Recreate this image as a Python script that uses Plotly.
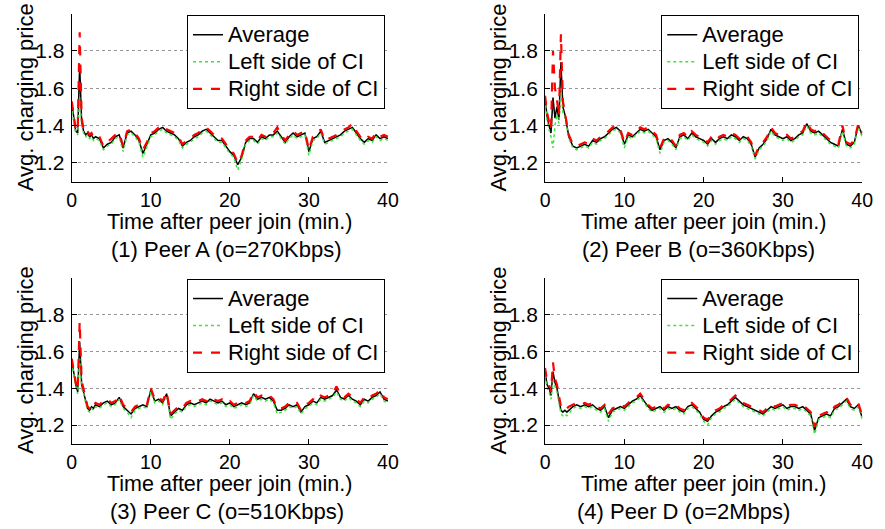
import plotly.graph_objects as go

# ---------------- data ----------------
time_min = [0, 0.25, 0.5, 0.75, 1, 1.25, 1.5, 1.75, 2, 2.25, 2.5, 2.75, 3,
            3.5, 4, 4.5, 5, 5.5, 6, 6.5, 7, 7.5, 8, 8.5, 9, 9.5, 10, 10.5, 11, 11.5, 12,
            12.5, 13, 13.5, 14, 14.5, 15, 15.5, 16, 16.5, 17, 17.5, 18, 18.5, 19, 19.5, 20,
            20.5, 21, 21.5, 22, 22.5, 23, 23.5, 24, 24.5, 25, 25.5, 26, 26.5, 27, 27.5, 28,
            28.5, 29, 29.5, 30, 30.5, 31, 31.5, 32, 32.5, 33, 33.5, 34, 34.5, 35, 35.5, 36,
            36.5, 37, 37.5, 38, 38.5, 39, 39.5, 40]

avg_a = [1.52, 1.43, 1.37, 1.36, 1.72, 1.42, 1.37, 1.35, 1.36, 1.34, 1.35, 1.33, 1.34,
         1.33, 1.28, 1.30, 1.31, 1.34, 1.35, 1.28, 1.36, 1.37, 1.35, 1.32, 1.25, 1.30, 1.35, 1.36, 1.38,
         1.39, 1.37, 1.36, 1.35, 1.33, 1.29, 1.31, 1.32, 1.34, 1.35, 1.37, 1.38, 1.36, 1.34, 1.32, 1.32,
         1.29, 1.26, 1.24, 1.19, 1.23, 1.31, 1.33, 1.33, 1.31, 1.34, 1.33, 1.35, 1.35, 1.37, 1.34, 1.31,
         1.34, 1.36, 1.34, 1.35, 1.36, 1.26, 1.33, 1.34, 1.37, 1.31, 1.32, 1.33, 1.34, 1.35, 1.37, 1.38,
         1.39, 1.36, 1.33, 1.31, 1.33, 1.32, 1.35, 1.33, 1.34, 1.33]
lo_a = [1.51, 1.41, 1.36, 1.35, 1.55, 1.40, 1.36, 1.34, 1.35, 1.33, 1.34, 1.32, 1.33,
        1.32, 1.27, 1.29, 1.30, 1.33, 1.34, 1.26, 1.35, 1.36, 1.34, 1.31, 1.23, 1.29, 1.34, 1.35, 1.37,
        1.38, 1.36, 1.35, 1.34, 1.32, 1.28, 1.30, 1.31, 1.33, 1.34, 1.36, 1.37, 1.35, 1.33, 1.31, 1.31,
        1.28, 1.25, 1.23, 1.16, 1.22, 1.30, 1.32, 1.32, 1.30, 1.33, 1.32, 1.34, 1.34, 1.36, 1.33, 1.30,
        1.33, 1.35, 1.33, 1.34, 1.35, 1.24, 1.32, 1.33, 1.36, 1.30, 1.31, 1.32, 1.33, 1.34, 1.36, 1.37,
        1.38, 1.35, 1.32, 1.30, 1.32, 1.31, 1.34, 1.32, 1.33, 1.32]
hi_a = [1.53, 1.45, 1.38, 1.37, 1.90, 1.44, 1.38, 1.36, 1.37, 1.35, 1.36, 1.34, 1.35,
        1.34, 1.29, 1.31, 1.33, 1.35, 1.36, 1.29, 1.37, 1.38, 1.36, 1.33, 1.27, 1.31, 1.36, 1.37, 1.39,
        1.40, 1.38, 1.37, 1.36, 1.34, 1.30, 1.32, 1.33, 1.35, 1.36, 1.38, 1.39, 1.37, 1.35, 1.33, 1.33,
        1.30, 1.27, 1.25, 1.20, 1.24, 1.32, 1.34, 1.34, 1.32, 1.35, 1.34, 1.36, 1.36, 1.39, 1.35, 1.32,
        1.35, 1.37, 1.35, 1.36, 1.37, 1.27, 1.34, 1.35, 1.38, 1.32, 1.33, 1.34, 1.35, 1.36, 1.38, 1.39,
        1.41, 1.37, 1.34, 1.32, 1.34, 1.33, 1.36, 1.34, 1.35, 1.34]

avg_b = [1.55, 1.45, 1.40, 1.36, 1.55, 1.44, 1.50, 1.43, 1.74, 1.50, 1.46, 1.40, 1.34,
         1.29, 1.28, 1.29, 1.30, 1.29, 1.32, 1.31, 1.33, 1.34, 1.36, 1.38, 1.39, 1.37, 1.30, 1.35, 1.34,
         1.36, 1.38, 1.37, 1.38, 1.36, 1.34, 1.27, 1.32, 1.33, 1.31, 1.28, 1.34, 1.35, 1.33, 1.36, 1.34,
         1.33, 1.32, 1.30, 1.33, 1.31, 1.33, 1.34, 1.33, 1.35, 1.34, 1.32, 1.34, 1.33, 1.30, 1.23, 1.28,
         1.30, 1.33, 1.38, 1.35, 1.34, 1.33, 1.34, 1.32, 1.33, 1.35, 1.36, 1.41, 1.37, 1.36, 1.37, 1.35,
         1.33, 1.31, 1.30, 1.29, 1.38, 1.30, 1.29, 1.31, 1.40, 1.35]
lo_b = [1.54, 1.43, 1.38, 1.34, 1.28, 1.40, 1.46, 1.41, 1.60, 1.47, 1.45, 1.39, 1.33,
        1.28, 1.27, 1.28, 1.29, 1.28, 1.31, 1.30, 1.32, 1.33, 1.35, 1.37, 1.38, 1.36, 1.28, 1.34, 1.33,
        1.35, 1.37, 1.36, 1.37, 1.35, 1.33, 1.25, 1.31, 1.32, 1.30, 1.27, 1.33, 1.34, 1.32, 1.35, 1.33,
        1.32, 1.31, 1.29, 1.32, 1.30, 1.32, 1.33, 1.32, 1.34, 1.33, 1.31, 1.33, 1.32, 1.29, 1.22, 1.27,
        1.29, 1.32, 1.37, 1.34, 1.33, 1.32, 1.33, 1.31, 1.32, 1.34, 1.35, 1.40, 1.36, 1.35, 1.36, 1.34,
        1.32, 1.30, 1.29, 1.28, 1.37, 1.29, 1.28, 1.30, 1.39, 1.34]
hi_b = [1.56, 1.47, 1.42, 1.38, 1.80, 1.60, 1.54, 1.45, 1.89, 1.53, 1.47, 1.41, 1.35,
        1.30, 1.29, 1.30, 1.31, 1.30, 1.33, 1.32, 1.34, 1.35, 1.37, 1.39, 1.40, 1.38, 1.31, 1.36, 1.35,
        1.37, 1.39, 1.38, 1.39, 1.37, 1.35, 1.28, 1.33, 1.34, 1.32, 1.29, 1.35, 1.36, 1.34, 1.37, 1.35,
        1.34, 1.33, 1.31, 1.34, 1.32, 1.34, 1.35, 1.34, 1.36, 1.35, 1.33, 1.35, 1.34, 1.31, 1.24, 1.29,
        1.31, 1.34, 1.39, 1.36, 1.35, 1.34, 1.35, 1.33, 1.34, 1.36, 1.37, 1.42, 1.38, 1.37, 1.38, 1.36,
        1.34, 1.32, 1.31, 1.30, 1.40, 1.31, 1.30, 1.32, 1.41, 1.36]

avg_c = [1.55, 1.47, 1.42, 1.38, 1.65, 1.42, 1.38, 1.33, 1.29, 1.28, 1.30, 1.29, 1.31,
         1.30, 1.32, 1.33, 1.31, 1.32, 1.35, 1.30, 1.28, 1.26, 1.29, 1.30, 1.31, 1.30, 1.39, 1.33, 1.34,
         1.32, 1.37, 1.25, 1.27, 1.29, 1.28, 1.31, 1.32, 1.31, 1.32, 1.33, 1.32, 1.34, 1.33, 1.32, 1.33,
         1.31, 1.32, 1.30, 1.31, 1.32, 1.31, 1.32, 1.37, 1.34, 1.35, 1.34, 1.35, 1.33, 1.28, 1.28, 1.29,
         1.31, 1.30, 1.31, 1.27, 1.30, 1.31, 1.33, 1.32, 1.35, 1.34, 1.35, 1.36, 1.39, 1.35, 1.34, 1.36,
         1.34, 1.33, 1.31, 1.34, 1.33, 1.35, 1.36, 1.38, 1.34, 1.33]
lo_c = [1.54, 1.46, 1.41, 1.37, 1.56, 1.40, 1.37, 1.32, 1.28, 1.27, 1.29, 1.28, 1.30,
        1.29, 1.31, 1.32, 1.30, 1.31, 1.34, 1.29, 1.27, 1.24, 1.28, 1.29, 1.30, 1.29, 1.38, 1.32, 1.33,
        1.31, 1.36, 1.23, 1.26, 1.28, 1.27, 1.30, 1.31, 1.30, 1.31, 1.32, 1.31, 1.33, 1.32, 1.31, 1.32,
        1.30, 1.31, 1.29, 1.30, 1.31, 1.30, 1.31, 1.36, 1.33, 1.34, 1.33, 1.34, 1.32, 1.26, 1.27, 1.28,
        1.30, 1.29, 1.30, 1.26, 1.29, 1.30, 1.32, 1.31, 1.34, 1.33, 1.34, 1.35, 1.38, 1.34, 1.33, 1.35,
        1.33, 1.32, 1.30, 1.33, 1.32, 1.34, 1.35, 1.37, 1.33, 1.32]
hi_c = [1.56, 1.48, 1.43, 1.39, 1.76, 1.44, 1.39, 1.34, 1.30, 1.29, 1.31, 1.30, 1.32,
        1.31, 1.33, 1.34, 1.32, 1.33, 1.36, 1.31, 1.29, 1.27, 1.30, 1.31, 1.32, 1.31, 1.40, 1.34, 1.35,
        1.33, 1.38, 1.26, 1.28, 1.30, 1.29, 1.32, 1.33, 1.32, 1.33, 1.34, 1.33, 1.35, 1.34, 1.33, 1.34,
        1.32, 1.33, 1.31, 1.32, 1.33, 1.32, 1.33, 1.38, 1.35, 1.36, 1.35, 1.36, 1.34, 1.29, 1.29, 1.30,
        1.32, 1.31, 1.32, 1.28, 1.31, 1.32, 1.34, 1.33, 1.36, 1.35, 1.36, 1.37, 1.41, 1.36, 1.35, 1.37,
        1.35, 1.34, 1.32, 1.35, 1.34, 1.36, 1.37, 1.39, 1.35, 1.34]

avg_d = [1.49, 1.42, 1.40, 1.36, 1.49, 1.43, 1.40, 1.34, 1.28, 1.27, 1.28, 1.27, 1.28,
         1.30, 1.31, 1.30, 1.31, 1.30, 1.31, 1.29, 1.28, 1.30, 1.24, 1.28, 1.29, 1.30, 1.29, 1.31, 1.33,
         1.34, 1.36, 1.33, 1.30, 1.28, 1.29, 1.30, 1.28, 1.30, 1.29, 1.30, 1.28, 1.27, 1.30, 1.31, 1.29,
         1.27, 1.23, 1.22, 1.25, 1.27, 1.28, 1.30, 1.31, 1.33, 1.35, 1.33, 1.31, 1.30, 1.29, 1.28, 1.27,
         1.26, 1.28, 1.30, 1.29, 1.30, 1.31, 1.29, 1.30, 1.30, 1.29, 1.30, 1.28, 1.26, 1.17, 1.24, 1.25,
         1.26, 1.25, 1.29, 1.30, 1.32, 1.34, 1.30, 1.29, 1.31, 1.24]
lo_d = [1.47, 1.40, 1.38, 1.34, 1.44, 1.41, 1.38, 1.32, 1.26, 1.25, 1.26, 1.25, 1.26,
        1.29, 1.30, 1.29, 1.30, 1.29, 1.30, 1.28, 1.27, 1.29, 1.22, 1.27, 1.28, 1.29, 1.28, 1.30, 1.32,
        1.33, 1.35, 1.32, 1.29, 1.27, 1.28, 1.29, 1.27, 1.29, 1.28, 1.29, 1.27, 1.26, 1.29, 1.30, 1.28,
        1.26, 1.22, 1.20, 1.24, 1.26, 1.27, 1.29, 1.30, 1.32, 1.34, 1.32, 1.30, 1.29, 1.28, 1.27, 1.26,
        1.25, 1.27, 1.29, 1.28, 1.29, 1.30, 1.28, 1.29, 1.29, 1.28, 1.29, 1.27, 1.25, 1.15, 1.23, 1.24,
        1.25, 1.24, 1.28, 1.29, 1.31, 1.33, 1.29, 1.28, 1.30, 1.23]
hi_d = [1.51, 1.44, 1.42, 1.38, 1.54, 1.45, 1.42, 1.36, 1.30, 1.29, 1.30, 1.29, 1.30,
        1.31, 1.32, 1.31, 1.32, 1.31, 1.32, 1.30, 1.29, 1.31, 1.26, 1.29, 1.30, 1.31, 1.30, 1.32, 1.34,
        1.35, 1.37, 1.34, 1.31, 1.29, 1.30, 1.31, 1.29, 1.31, 1.30, 1.31, 1.29, 1.28, 1.31, 1.32, 1.30,
        1.28, 1.24, 1.23, 1.26, 1.28, 1.29, 1.31, 1.32, 1.34, 1.36, 1.34, 1.32, 1.31, 1.30, 1.29, 1.28,
        1.27, 1.29, 1.31, 1.30, 1.31, 1.32, 1.30, 1.31, 1.31, 1.30, 1.31, 1.29, 1.27, 1.19, 1.25, 1.26,
        1.27, 1.26, 1.30, 1.31, 1.33, 1.35, 1.31, 1.30, 1.32, 1.25]

captions = ["(1) Peer A (o=270Kbps)", "(2) Peer B (o=360Kbps)",
            "(3) Peer C (o=510Kbps)", "(4) Peer D (o=2Mbps)"]
series_names = ["Average", "Left side of CI", "Right side of CI"]
x_ticks = [0, 10, 20, 30, 40]
y_ticks = [1.2, 1.4, 1.6, 1.8]
y_tick_text = ["1.2", "1.4", "1.6", "1.8"]

panels = [(avg_a, lo_a, hi_a), (avg_b, lo_b, hi_b), (avg_c, lo_c, hi_c), (avg_d, lo_d, hi_d)]

# ---------------- layout geometry (pixels) ----------------
W, H = 885, 529
FONT = "Liberation Sans, Arial, Helvetica, sans-serif"
col_px = [(68, 390), (550, 873)]
row_px = [(13.7, 181.5), (277.5, 443.5)]
caption_x = [226, 706, 226, 691]


def px(x):
    return x / W


def py(y):
    return 1 - y / H


fig = go.Figure()
layout = dict(
    width=W, height=H, autosize=False,
    margin=dict(l=0, r=0, t=0, b=0),
    paper_bgcolor="white", plot_bgcolor="white",
    font=dict(family=FONT, color="black"),
    annotations=[],
)

styles = [
    dict(color="black", width=1.5, dash="solid"),
    dict(color="rgb(60,230,60)", width=1.5, dash="dot"),
    dict(color="rgb(255,0,0)", width=2.2, dash="dash"),
]

for k, (avg, lo, hi) in enumerate(panels):
    r, c = divmod(k, 2)
    idx = "" if k == 0 else str(k + 1)
    xa, ya = "x" + idx, "y" + idx
    lg = "legend" + idx
    for name, vals, st in zip(series_names, (avg, lo, hi), styles):
        fig.add_trace(go.Scatter(
            x=time_min, y=vals, mode="lines",
            name='<span style="font-size:22px">' + name + "</span>",
            line=st, xaxis=xa, yaxis=ya, legend=lg, showlegend=True,
        ))
    x0, x1 = col_px[c]
    y0, y1 = row_px[r]
    layout["xaxis" + idx] = dict(
        domain=[px(x0), px(x1)], anchor=ya, range=[0, 40],
        tickmode="array", tickvals=x_ticks, ticks="inside", ticklen=5,
        tickcolor="black", showline=True, linecolor="black", linewidth=1,
        showgrid=False, zeroline=False, ticklabelstandoff=1,
        tickfont=dict(size=19.5, color="black", family=FONT),
    )
    layout["yaxis" + idx] = dict(
        domain=[py(y1), py(y0)], anchor=xa, range=[1.1, 2.0],
        tickmode="array", tickvals=y_ticks, ticktext=y_tick_text,
        ticks="inside", ticklen=5, tickcolor="black",
        showline=True, linecolor="black", linewidth=1,
        showgrid=True, gridcolor="rgb(150,150,150)", griddash="dot", gridwidth=1,
        zeroline=False, ticklabelstandoff=2,
        tickfont=dict(size=21, color="black", family=FONT),
    )
    layout[lg] = dict(
        x=px(x1 - 3), y=py(y0 + 1.5), xanchor="right", yanchor="top",
        bgcolor="white", bordercolor="black", borderwidth=1,
        font=dict(size=18.5, color="black", family=FONT),
        tracegroupgap=0, itemwidth=30,
    )
    # y-axis title
    layout["annotations"].append(dict(
        text="Avg. charging price", xref="paper", yref="paper",
        x=px(x0 - 47), y=py((y0 + y1) / 2), textangle=-90, showarrow=False,
        xanchor="center", yanchor="middle", font=dict(size=22, family=FONT, color="black"),
    ))
    # x-axis title
    layout["annotations"].append(dict(
        text="Time after peer join (min.)", xref="paper", yref="paper",
        x=px((x0 + x1) / 2), y=py(y1 + 40), showarrow=False,
        xanchor="center", yanchor="middle", font=dict(size=21.5, family=FONT, color="black"),
    ))
    # caption
    layout["annotations"].append(dict(
        text=captions[k], xref="paper", yref="paper",
        x=px(caption_x[k]), y=py(y1 + 68), showarrow=False,
        xanchor="center", yanchor="middle", font=dict(size=22, family=FONT, color="black"),
    ))

fig.update_layout(**layout)
fig.write_html("out.html", config={"displayModeBar": False},
               post_script="document.body.style.margin='0px';")
